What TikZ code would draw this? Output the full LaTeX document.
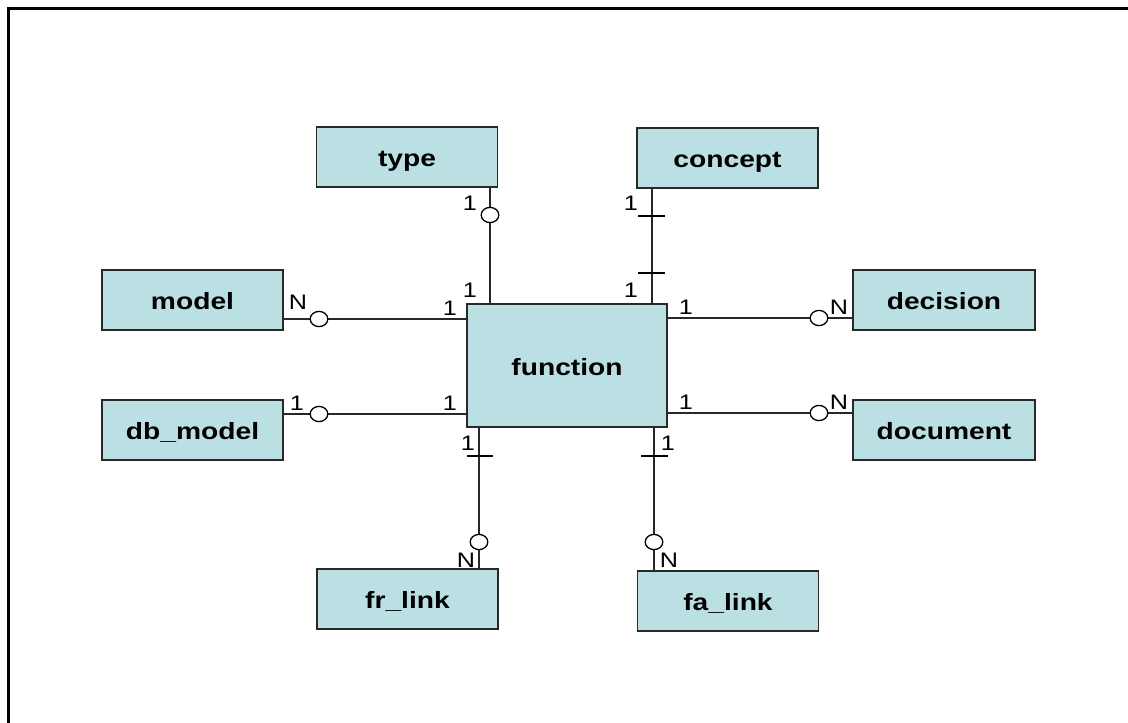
\documentclass[tikz,border=0pt]{standalone}
\usepackage{fontspec}
\setmainfont{Liberation Sans}[FakeStretch=1.2]
\definecolor{boxfill}{RGB}{187,224,228}
\definecolor{edge}{RGB}{40,40,40}
\begin{document}
\begin{tikzpicture}[x=1pt,y=-1pt,
  entity/.style={rectangle,draw=edge,line width=1.4pt,fill=boxfill,inner sep=0pt,
    text height=19pt,text depth=0pt,
    minimum width=181pt,minimum height=60pt,font=\bfseries\fontsize{23.5}{28}\selectfont},
  conn/.style={draw=edge,line width=1.2pt},
  lbl/.style={inner sep=0pt,font=\fontsize{21}{24}\selectfont},
  opt/.style={draw=black,line width=1.3pt,fill=white}]
\useasboundingbox (0,0) rectangle (1128,723);
% frame
\draw[line width=3.2pt,black] (8.5,730) -- (8.5,8.5) -- (1135,8.5);
% entities
\node[entity,minimum width=200pt,minimum height=123pt] (function) at (567,365.5) {function};
\node[entity] (type) at (407,157) {type};
\node[entity] (concept) at (727.5,158) {concept};
\node[entity] (model) at (192.5,300) {model};
\node[entity] (dbmodel) at (192.5,430) {db\_model};
\node[entity,minimum width=182pt] (decision) at (944,300) {decision};
\node[entity,minimum width=182pt] (document) at (944,430) {document};
\node[entity] (frlink) at (407.5,599) {fr\_link};
\node[entity] (falink) at (728,601) {fa\_link};
% helper coordinates
\coordinate (xt) at (490,0);
\coordinate (xc) at (652,0);
\coordinate (xf) at (479,0);
\coordinate (xa) at (654,0);
\coordinate (ym) at (0,319);
\coordinate (yd) at (0,414);
\coordinate (yde) at (0,318);
\coordinate (ydo) at (0,413);
% connectors
\draw[conn] (type.south -| xt) -- (function.north -| xt);
\draw[conn] (concept.south -| xc) -- (function.north -| xc);
\draw[conn] (model.east |- ym) -- (function.west |- ym);
\draw[conn] (dbmodel.east |- yd) -- (function.west |- yd);
\draw[conn] (function.east |- yde) -- (decision.west |- yde);
\draw[conn] (function.east |- ydo) -- (document.west |- ydo);
\draw[conn] (function.south -| xf) -- (frlink.north -| xf);
\draw[conn] (function.south -| xa) -- (falink.north -| xa);
% optional markers (circles)
\draw[opt] (490,215) ellipse [x radius=8.8pt,y radius=7.6pt];
\draw[opt] (319,319) ellipse [x radius=8.8pt,y radius=7.6pt];
\draw[opt] (319,414) ellipse [x radius=8.8pt,y radius=7.6pt];
\draw[opt] (819,318) ellipse [x radius=8.8pt,y radius=7.6pt];
\draw[opt] (819,413) ellipse [x radius=8.8pt,y radius=7.6pt];
\draw[opt] (479,542) ellipse [x radius=8.8pt,y radius=7.6pt];
\draw[opt] (654,542) ellipse [x radius=8.8pt,y radius=7.6pt];
% mandatory markers (bars)
\draw[conn,draw=black] (638,216) -- (665,216);
\draw[conn,draw=black] (638,273) -- (665,273);
\draw[conn,draw=black] (467,456) -- (493,456);
\draw[conn,draw=black] (641,456) -- (668,456);
% cardinality labels
\node[lbl] (l1) at (470,203) {1};
\node[lbl] (l2) at (470,290) {1};
\node[lbl] (l3) at (631,203) {1};
\node[lbl] (l4) at (631,290) {1};
\node[lbl] (l5) at (298,302) {N};
\node[lbl] (l6) at (450,308) {1};
\node[lbl] (l7) at (297,403) {1};
\node[lbl] (l8) at (450,403) {1};
\node[lbl] (l9) at (686,307) {1};
\node[lbl] (l10) at (839,307) {N};
\node[lbl] (l11) at (686,402) {1};
\node[lbl] (l12) at (839,402) {N};
\node[lbl] (l13) at (468,443) {1};
\node[lbl] (l14) at (466,560) {N};
\node[lbl] (l15) at (668,443) {1};
\node[lbl] (l16) at (669,560) {N};
\end{tikzpicture}
\end{document}
